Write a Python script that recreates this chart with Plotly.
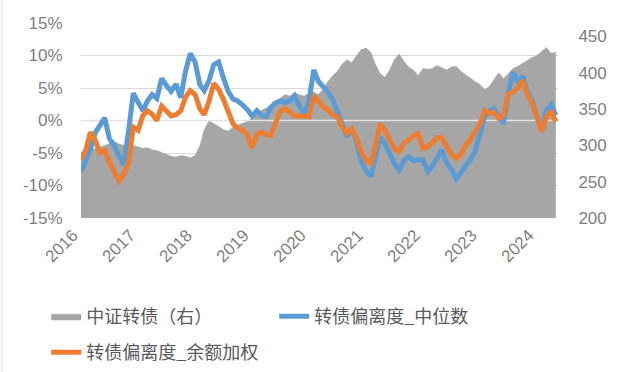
import pandas as pd
import plotly.graph_objects as go

# ---------------- data (monthly) ----------------
months = pd.date_range("2016-01-01", periods=101, freq="MS")

year_labels = ["2016", "2017", "2018", "2019", "2020", "2021", "2022", "2023", "2024"]
year_ticks = [f"{y}-01-01" for y in year_labels]

left_ticks = [-15, -10, -5, 0, 5, 10, 15]
left_tick_text = ["-15%", "-10%", "-5%", "0%", "5%", "10%", "15%"]
right_ticks = [200, 250, 300, 350, 400, 450]

# 中证转债（右）
csi_cb = [290, 292, 294, 296, 298, 300, 303, 305, 302, 300,
          302, 300, 298, 296, 297, 294, 293, 290, 287, 285,
          284, 286, 285, 283, 286, 300, 322, 334, 330, 326,
          322, 320, 325, 328, 330, 333, 338, 345, 348, 352,
          355, 358, 365, 370, 368, 372, 370, 368, 372, 374,
          370, 378, 388, 396, 402, 412, 418, 414, 424, 432,
          434, 428, 412, 399, 394, 404, 418, 426, 416, 408,
          404, 396, 406, 405, 406, 410, 407, 404, 408, 409,
          402, 397, 393, 388, 384, 377, 381, 390, 400, 392,
          399, 406, 409, 413, 417, 421, 424, 430, 435, 427,
          428]

# 转债偏离度_中位数 (%)
dev_median = [-7.9, -6.3, -4.5, -1.9, -0.7, 0.4, -2.8, -3.8, -5.5, -6.8,
              -1.5, 4.2, 2.8, 1.5, 3.0, 4.0, 3.4, 6.5, 5.4, 4.5,
              5.6, 3.5, 7.6, 10.3, 9.0, 5.5, 4.6, 6.2, 8.6, 9.0,
              6.6, 4.5, 3.3, 3.0, 2.4, 1.7, 0.7, 1.5, 0.8, 0.6,
              2.0, 2.7, 3.0, 2.8, 3.0, 3.8, 2.2, 1.0, 3.0, 7.8,
              6.0, 5.2, 4.4, 3.2, 1.4, -0.4, -2.5, -1.3, -3.2, -6.2,
              -7.8, -8.6, -6.0, -2.5, -3.5, -5.3, -6.6, -7.6, -6.1, -5.6,
              -6.2, -6.0, -6.1, -7.8, -7.0, -5.8, -4.5, -6.5, -7.5, -9.0,
              -7.8, -7.0, -6.0, -4.7, -2.0, 0.8, 1.4, 1.8, 0.8, -0.5,
              4.2, 7.4, 6.0, 6.8, 4.5, 3.1, 0.6, -1.4, 1.5, 2.4,
              0.8]

# 转债偏离度_余额加权 (%)
dev_weighted = [-6.0, -4.5, -1.8, -3.0, -5.0, -4.6, -6.4, -7.9, -9.3, -8.3,
                -6.5, -1.0, -1.5, 0.8, 1.5, 1.0, 0.0, 2.2, 1.4, 0.7,
                0.9, 1.5, 3.6, 4.6, 4.0, 1.8, 0.9, 3.0, 5.7, 4.8,
                3.3, 1.2, -0.5, -1.2, -1.5, -2.1, -4.2, -2.2, -1.8, -2.2,
                -2.3, -0.4, 1.4, 1.8, 1.2, 0.7, 0.7, 0.7, 0.6, 3.8,
                3.0, 2.1, 1.6, 0.9, 0.6, -1.0, -2.0, -1.3, -2.8, -4.8,
                -6.2, -6.6, -4.0, -0.5, -1.5, -3.0, -4.3, -4.8, -3.5, -3.0,
                -2.3, -2.0, -4.3, -4.0, -3.5, -2.6, -2.7, -3.9, -5.2, -5.8,
                -5.2, -3.8, -3.0, -1.7, -0.5, 1.5, 1.1, 1.3, 0.3, 0.8,
                4.0, 4.4, 5.0, 6.2, 4.0, 2.7, 0.7, -1.7, 0.5, 1.5,
                -0.2]

# ---------------- figure ----------------
GRAY = "#a6a6a6"
BLUE = "#5b9bd5"
ORANGE = "#ed7d31"
GRID = "#d9d9d9"
TICK_FONT = dict(family="Liberation Sans, Noto Sans CJK SC, sans-serif", size=17, color="#7f7f7f")
LEG_FONT = dict(family="Noto Sans CJK SC, sans-serif", size=18, color="#595959")

fig = go.Figure()

fig.add_trace(go.Scatter(
    x=months, y=csi_cb, name="中证转债（右）", mode="lines",
    line=dict(color=GRAY, width=0.5), fill="tozeroy", fillcolor=GRAY,
    xaxis="x", yaxis="y", legend="legend", hoverinfo="skip"))

# category axis line crossing at 0% (drawn over the area, under the lines)
fig.add_trace(go.Scatter(
    x=[months[0], months[-1] + pd.Timedelta(days=14)], y=[0, 0], mode="lines",
    line=dict(color="#e2e2e2", width=1.5), showlegend=False, hoverinfo="skip",
    xaxis="x", yaxis="y2"))

fig.add_trace(go.Scatter(
    x=months, y=dev_median, name="转债偏离度_中位数", mode="lines",
    line=dict(color=BLUE, width=5), xaxis="x", yaxis="y2", legend="legend"))

fig.add_trace(go.Scatter(
    x=months, y=dev_weighted, name="转债偏离度_余额加权", mode="lines",
    line=dict(color=ORANGE, width=5), xaxis="x", yaxis="y2", legend="legend2"))

fig.update_layout(
    width=624, height=372,
    margin=dict(l=81, r=66, t=23, b=154, autoexpand=False),
    paper_bgcolor="white", plot_bgcolor="white",
    showlegend=True,
    xaxis=dict(
        type="date", range=["2016-01-01", "2024-05-15"], automargin=False,
        tickmode="array", tickvals=year_ticks, ticktext=year_labels,
        tickangle=-45, tickfont=TICK_FONT, showgrid=False, zeroline=False,
        showline=False, ticks="", ticklabelstandoff=3, ticklabelshift=-8),
    yaxis=dict(
        side="right", range=[200, 468.6], tickmode="array", tickvals=right_ticks,
        automargin=False,
        tickfont=TICK_FONT, showgrid=False, zeroline=False, showline=False,
        ticks="outside", ticklen=16, tickcolor="rgba(0,0,0,0)"),
    yaxis2=dict(
        overlaying="y", side="left", range=[-15, 15], tickmode="array",
        automargin=False,
        tickvals=left_ticks, ticktext=left_tick_text, tickfont=TICK_FONT,
        showgrid=True, gridcolor=GRID, gridwidth=1, zeroline=False, showline=False,
        ticks="outside", ticklen=14, tickcolor="rgba(0,0,0,0)"),
    legend=dict(
        orientation="h", x=-0.073, xanchor="left", y=-0.41, yanchor="top",
        font=LEG_FONT, entrywidth=183, entrywidthmode="pixels",
        bgcolor="rgba(0,0,0,0)", itemclick=False),
    legend2=dict(
        orientation="h", x=-0.073, xanchor="left", y=-0.595, yanchor="top",
        font=LEG_FONT, bgcolor="rgba(0,0,0,0)", itemclick=False),
    shapes=[dict(type="line", xref="paper", yref="paper",
                 x0=-0.166, x1=-0.166, y0=-0.85, y1=1.12,
                 line=dict(color="#e6e6e6", width=1))],
)

fig.write_html("out.html", config={"displayModeBar": False},
               post_script="document.body.style.margin='0';")
